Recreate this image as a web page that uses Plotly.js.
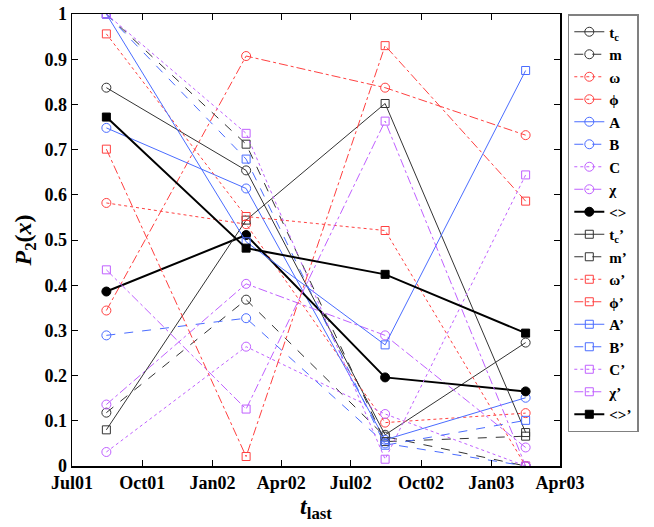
<!DOCTYPE html>
<html>
<head>
<meta charset="utf-8">
<script src="https://cdn.plot.ly/plotly-3.0.1.min.js"></script>
<style>
  html, body { margin: 0; padding: 0; background: #fff; }
  #plot { width: 654px; height: 527px; }
</style>
</head>
<body>
<div id="plot"></div>
<script>
// dates of the four snapshots
var tlast = ['2001-08-15', '2002-02-14', '2002-08-15', '2003-02-15'];

var tickDates = ['2001-07-01', '2001-10-01', '2002-01-01', '2002-04-01',
                 '2002-07-01', '2002-10-01', '2003-01-01', '2003-04-01'];
var tickNames = ['Jul01', 'Oct01', 'Jan02', 'Apr02', 'Jul02', 'Oct02', 'Jan03', 'Apr03'];

// P2(x) values, circles
var tc    = [0.837, 0.654, 0.069, 0.273];
var m     = [0.118, 0.368, 0.065, 0.000];
var omega = [0.582, 0.535, 0.096, 0.117];
var phi   = [0.344, 0.907, 0.837, 0.732];
var A     = [0.748, 0.614, 0.058, 0.151];
var B     = [0.289, 0.327, 0.050, 0.000];
var C     = [0.031, 0.264, 0.115, 0.000];
var chi   = [0.136, 0.403, 0.289, 0.041];
var avg   = [0.386, 0.511, 0.196, 0.165];

// primed values, squares
var tc2    = [0.080, 0.544, 0.802, 0.074];
var m2     = [1.000, 0.712, 0.054, 0.066];
var omega2 = [0.956, 0.552, 0.521, 0.000];
var phi2   = [0.701, 0.021, 0.930, 0.586];
var A2     = [1.000, 0.496, 0.268, 0.875];
var B2     = [1.000, 0.679, 0.046, 0.101];
var C2     = [1.000, 0.736, 0.015, 0.644];
var chi2   = [0.434, 0.126, 0.763, 0.000];
var avg2   = [0.772, 0.482, 0.424, 0.294];

var black = '#333333', red = '#ff4040', blue = '#4a6cff', purple = '#c060ff';
var serif = 'Liberation Serif';

function tr(name, y, color, dash, symbol, bold) {
  return {
    x: tlast, y: y, name: name, type: 'scatter', mode: 'lines+markers',
    line: {color: bold ? '#000' : color, width: bold ? 2 : 1, dash: dash},
    marker: {symbol: symbol, size: symbol.indexOf('circle') === 0 ? 9 : 8,
             color: bold ? '#000' : color,
             line: {color: bold ? '#000' : color, width: 1}}
  };
}

var data = [
  tr('t<sub>c</sub>', tc, black, 'solid', 'circle-open'),
  tr('m', m, black, 'dash', 'circle-open'),
  tr('\u03c9', omega, red, 'dot', 'circle-open'),
  tr('\u03d5', phi, red, 'dashdot', 'circle-open'),
  tr('A', A, blue, 'solid', 'circle-open'),
  tr('B', B, blue, 'dash', 'circle-open'),
  tr('C', C, purple, 'dot', 'circle-open'),
  tr('\u03c7', chi, purple, 'dashdot', 'circle-open'),
  tr('&lt;&gt;', avg, black, 'solid', 'circle', true),
  tr('t<sub>c</sub>\u2019', tc2, black, 'solid', 'square-open'),
  tr('m\u2019', m2, black, 'dash', 'square-open'),
  tr('\u03c9\u2019', omega2, red, 'dot', 'square-open'),
  tr('\u03d5\u2019', phi2, red, 'dashdot', 'square-open'),
  tr('A\u2019', A2, blue, 'solid', 'square-open'),
  tr('B\u2019', B2, blue, 'dash', 'square-open'),
  tr('C\u2019', C2, purple, 'dot', 'square-open'),
  tr('\u03c7\u2019', chi2, purple, 'dashdot', 'square-open'),
  tr('&lt;&gt;\u2019', avg2, black, 'solid', 'square', true)
];

var axisFont = {family: serif, size: 18, color: '#000', weight: 'bold'};

var layout = {
  width: 654, height: 527,
  margin: {l: 72, r: 94, t: 14, b: 61},
  paper_bgcolor: '#fff', plot_bgcolor: '#fff',
  font: axisFont,
  showlegend: true,
  legend: {
    x: 1.016, y: 1, xanchor: 'left', yanchor: 'top',
    bordercolor: '#808080', borderwidth: 1.5, bgcolor: '#fff',
    font: {family: serif, size: 15, color: '#000', weight: 'bold'},
    tracegroupgap: 0, itemwidth: 30
  },
  xaxis: {
    type: 'date',
    range: ['2001-07-01', '2003-04-01'],
    tickvals: tickDates, ticktext: tickNames,
    ticks: 'inside', ticklen: 6, tickwidth: 1, tickcolor: '#000',
    showline: true, linecolor: '#000', linewidth: 1.5, mirror: 'ticks',
    showgrid: false, zeroline: false,
    tickfont: axisFont,
    title: {text: '<b><i>t</i><sub>last</sub></b>', font: {family: serif, size: 24, color: '#000'}, standoff: 4}
  },
  yaxis: {
    range: [0, 1],
    tickvals: [0, 0.1, 0.2, 0.3, 0.4, 0.5, 0.6, 0.7, 0.8, 0.9, 1],
    ticktext: ['0', '0.1', '0.2', '0.3', '0.4', '0.5', '0.6', '0.7', '0.8', '0.9', '1'],
    ticks: 'inside', ticklen: 6, tickwidth: 1, tickcolor: '#000',
    showline: true, linecolor: '#000', linewidth: 1.5, mirror: 'ticks',
    showgrid: false, zeroline: false,
    tickfont: axisFont,
    title: {text: '<b><i>P</i><sub>2</sub>(<i>x</i>)</b>', font: {family: serif, size: 24, color: '#000'}, standoff: 6}
  }
};

Plotly.newPlot('plot', data, layout, {displayModeBar: false, staticPlot: true});
</script>
</body>
</html>
